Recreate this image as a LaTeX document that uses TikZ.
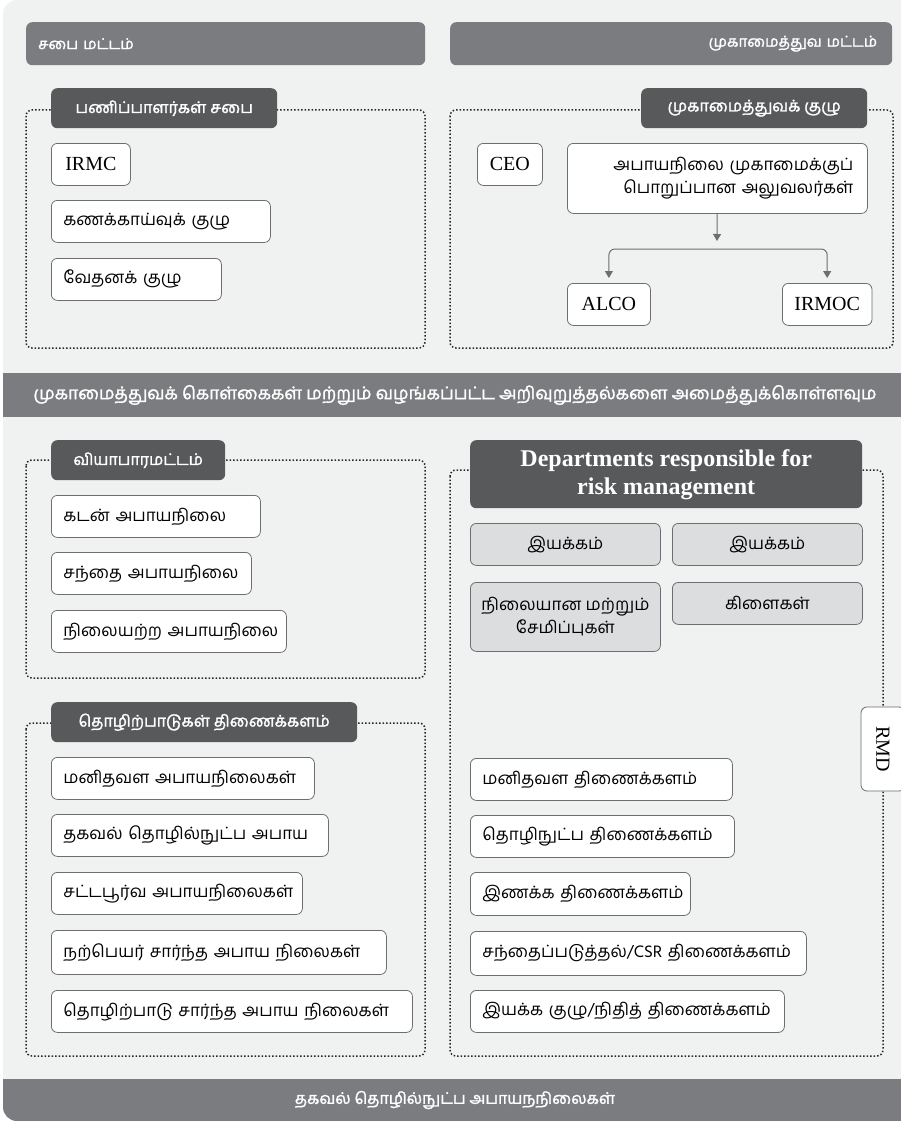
\documentclass[tikz,border=0pt]{standalone}
\usepackage{fontspec}
\usepackage{graphicx}
\newfontfamily\tamil[Script=Tamil]{Hind Madurai}
\newfontfamily\tamilbold[Script=Tamil, FakeBold=1.6]{Hind Madurai}
\newfontfamily\engserif{Liberation Serif}
\usetikzlibrary{arrows.meta}

\definecolor{bgcol}{HTML}{F0F1F1}
\definecolor{barcol}{HTML}{7B7C80}
\definecolor{headcol}{HTML}{58595B}
\definecolor{boxline}{HTML}{6D6E71}
\definecolor{greyfill}{HTML}{DCDDDF}
\definecolor{dotcol}{HTML}{262626}

\begin{document}
\begin{tikzpicture}[x=1pt,y=-1pt,
    bar/.style={fill=barcol, text=white, rounded corners=6, anchor=north west,
      minimum height=43, inner xsep=12, font=\tamilbold\fontsize{15}{18}\selectfont},
    bartext/.style={text=white, font=\tamilbold\fontsize{17.4}{20}\selectfont},
    head/.style={fill=headcol, text=white, rounded corners=6, anchor=north west,
      minimum height=40, inner xsep=8, font=\tamilbold\fontsize{16}{19}\selectfont},
    item/.style={draw=boxline, fill=white, rounded corners=6, anchor=north west,
      minimum height=42, inner xsep=12, align=left, line width=0.8,
      font=\tamil\fontsize{17}{23}\selectfont},
    eng/.style={item, align=center, font=\engserif\fontsize{20}{24}\selectfont},
    greybox/.style={item, fill=greyfill, align=center, inner xsep=6},
    dotbox/.style={draw=dotcol, dotted, line width=1.5, rounded corners=6},
    conn/.style={draw=boxline, line width=1}]
\useasboundingbox (0,0) rectangle (900,1121);

% Background and full-width bars
\begin{scope}
  \clip[rounded corners=14] (3,0) rectangle (930,1121);
  \fill[bgcol] (3,0) rectangle (930,1121);
  \fill[barcol] (3,373) rectangle (930,417);
  \fill[barcol] (3,1079) rectangle (930,1121);
\end{scope}
\node[bartext] (policy) at (455,395) {முகாமைத்துவக் கொள்கைகள் மற்றும் வழங்கப்பட்ட அறிவுறுத்தல்களை அமைத்துக்கொள்ளவும};
\node[bartext, font=\tamilbold\fontsize{16}{19}\selectfont] (itrisk) at (455,1100) {தகவல் தொழில்நுட்ப அபாயநநிலைகள்};

% Level bars
\node[bar, text width=375, align=left] (boardlvl) at (26,22) {சபை மட்டம்};
\node[bar, text width=412, inner xsep=15, align=right] (mgmtlvl) at (450,22) {முகாமைத்துவ மட்டம்};

% Dotted groups
\draw[dotbox] (26,110) rectangle (425,348);
\draw[dotbox] (450,110) rectangle (893,348);
\draw[dotbox] (26,460) rectangle (425,678);
\draw[dotbox] (26,723) rectangle (425,1056);
\draw[dotbox] (450,470) rectangle (883,1056);

% Board of directors
\node[head, minimum width=226] (boardhd) at (51,88) {பணிப்பாளர்கள் சபை};
\node[eng, minimum width=79] (irmc) at (51,143) {IRMC};
\node[item, text width=195] (audit) at (51,200) {கணக்காய்வுக் குழு};
\node[item, text width=146] (remun) at (51,258) {வேதனக் குழு};

% Management committee
\node[head, minimum width=226] (mgmthd) at (641,88) {முகாமைத்துவக் குழு};
\node[eng, minimum width=65] (ceo) at (477,143) {CEO};
\node[item, text width=272, inner xsep=14, minimum height=70, align=right] (officers) at (567,143)
  {அபாயநிலை முகாமைக்குப்\\பொறுப்பான அலுவலர்கள்};
\node[eng, minimum width=83] (alco) at (567,283) {ALCO};
\node[eng, minimum width=85] (irmoc) at (782,283) {IRMOC};
\coordinate (fork) at (717,241);
\coordinate (split) at (717,249);
\draw[conn, -{Triangle[width=8pt,length=7pt]}] (officers) -- (fork);
\draw[conn, rounded corners=6, {Triangle[width=8pt,length=7pt]}-{Triangle[width=8pt,length=7pt]}]
  ([yshift=5]alco.north) |- (split) -| ([yshift=5]irmoc.north);

% Business level
\node[head, minimum width=174] (bizhd) at (51,440) {வியாபாரமட்டம்};
\node[item, text width=185] (credit) at (51,495) {கடன் அபாயநிலை};
\node[item, text width=176] (market) at (51,552) {சந்தை அபாயநிலை};
\node[item, text width=211] (liquid) at (51,610) {\mbox{நிலையற்ற அபாயநிலை}};

% Operations departments
\node[head, minimum width=306] (opshd) at (51,702) {தொழிற்பாடுகள் திணைக்களம்};
\node[item, text width=239] (hrrisk) at (51,757) {மனிதவள அபாயநிலைகள்};
\node[item, text width=253] (itrsk) at (51,814) {தகவல் தொழில்நுட்ப அபாய};
\node[item, text width=227] (legal) at (51,872) {\mbox{சட்டபூர்வ அபாயநிலைகள்}};
\node[item, text width=311, minimum height=44] (reput) at (51,930) {நற்பெயர் சார்ந்த அபாய நிலைகள்};
\node[item, text width=337] (oprisk) at (51,990) {தொழிற்பாடு சார்ந்த அபாய நிலைகள்};

% Risk management departments
\node[head, minimum width=392, minimum height=68, align=center,
  font=\engserif\bfseries\fontsize{24}{28}\selectfont] (depthd) at (470,440) {Departments responsible for\\risk management};
\node[greybox, minimum width=190] (dir1) at (470,523) {இயக்கம்};
\node[greybox, minimum width=190] (dir2) at (672,523) {இயக்கம்};
\node[greybox, minimum width=190, minimum height=69] (deposit) at (470,582) {நிலையான மற்றும்\\சேமிப்புகள்};
\node[greybox, minimum width=190] (branch) at (672,582) {கிளைகள்};
\node[eng, rotate=-90, minimum width=84, minimum height=44, anchor=center] (rmd) at (883,749) {RMD};
\node[item, text width=238] (hrdept) at (470,758) {மனிதவள திணைக்களம்};
\node[item, text width=240] (techdept) at (470,815) {தொழிநுட்ப திணைக்களம்};
\node[item, text width=196, minimum height=43] (compl) at (470,872) {\mbox{இணக்க திணைக்களம்}};
\node[item, text width=312, minimum height=44] (mktg) at (470,931) {சந்தைப்படுத்தல்/CSR திணைக்களம்};
\node[item, text width=290] (finance) at (470,990) {இயக்க குழு/நிதித் திணைக்களம்};
\end{tikzpicture}
\end{document}
